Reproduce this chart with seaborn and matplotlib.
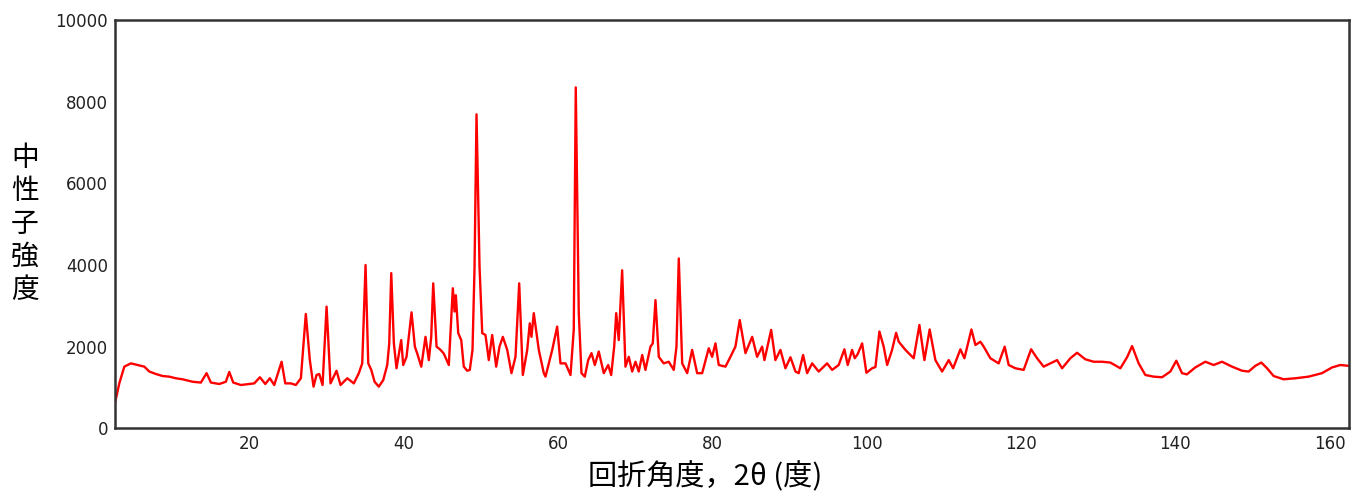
import matplotlib
matplotlib.use("Agg")
import matplotlib.pyplot as plt
import seaborn as sns
import pandas as pd

# neutron diffraction pattern
two_theta = [
    2.64, 3.16, 3.81, 4.66, 5.53, 6.40, 7.05, 7.90, 8.77, 9.64,
    10.49, 11.36, 12.66, 13.73, 14.47, 15.03, 16.12, 16.97, 17.41, 17.93,
    18.91, 20.00, 20.65, 21.38, 22.08, 22.67, 23.24, 24.19, 24.67, 25.39,
    26.04, 26.69, 27.33, 27.85, 28.33, 28.72, 29.07, 29.50, 30.02, 30.53,
    31.31, 31.83, 32.70, 33.55, 34.20, 34.64, 35.07, 35.42, 35.81, 36.24,
    36.79, 37.36, 37.88, 38.14, 38.40, 38.74, 39.08, 39.69, 39.95, 40.38,
    41.03, 41.46, 41.77, 42.29, 42.84, 43.27, 43.58, 43.84, 44.27, 44.79,
    45.21, 45.86, 46.17, 46.38, 46.60, 46.77, 47.08, 47.47, 47.80, 48.24,
    48.58, 48.93, 49.19, 49.45, 49.84, 50.19, 50.61, 51.04, 51.48, 52.00,
    52.43, 52.86, 53.43, 53.98, 54.50, 54.98, 55.45, 56.02, 56.35, 56.57,
    56.87, 57.52, 58.17, 58.39, 59.26, 59.90, 60.33, 60.98, 61.63, 62.05,
    62.31, 62.70, 63.05, 63.48, 63.92, 64.35, 64.78, 65.29, 65.94, 66.51,
    66.90, 67.29, 67.55, 67.88, 68.32, 68.75, 69.18, 69.62, 70.05, 70.47,
    70.92, 71.34, 71.99, 72.29, 72.64, 73.07, 73.71, 74.36, 75.01, 75.36,
    75.66, 76.10, 76.75, 77.39, 78.04, 78.69, 79.54, 79.98, 80.41, 80.84,
    81.71, 82.35, 83.00, 83.56, 84.30, 85.17, 85.81, 86.46, 86.76, 87.63,
    88.18, 88.83, 89.48, 90.13, 90.78, 91.20, 91.77, 92.29, 92.94, 93.79,
    94.88, 95.53, 96.38, 97.12, 97.55, 98.12, 98.46, 98.85, 99.42, 99.97,
    100.71, 101.14, 101.66, 102.21, 102.66, 103.30, 103.82, 104.16, 105.03, 106.10,
    106.84, 107.49, 108.17, 108.91, 109.78, 110.64, 111.21, 112.15, 112.67, 113.58,
    114.10, 114.74, 115.17, 116.04, 117.11, 117.89, 118.41, 119.28, 120.35, 121.31,
    122.09, 122.94, 123.81, 124.68, 125.33, 126.40, 127.27, 128.34, 129.42, 130.51,
    131.58, 132.88, 133.75, 134.40, 135.25, 136.12, 137.19, 138.28, 139.36, 140.13,
    140.87, 141.50, 142.59, 143.89, 144.97, 146.05, 147.35, 148.65, 149.50, 150.37,
    151.15, 151.89, 152.74, 154.04, 155.55, 157.27, 159.01, 160.31, 161.38, 162.45,
]
intensity = [
    650, 1100, 1510, 1590, 1550, 1510, 1390, 1330, 1280, 1265,
    1225, 1200, 1140, 1120, 1350, 1120, 1085, 1140, 1380, 1120,
    1060, 1085, 1100, 1250, 1085, 1225, 1060, 1630, 1100, 1100,
    1060, 1225, 2800, 1670, 1020, 1305, 1330, 1060, 2980, 1100,
    1410, 1060, 1225, 1100, 1350, 1590, 4000, 1590, 1430, 1140,
    1020, 1180, 1550, 2080, 3800, 2080, 1470, 2160, 1550, 1750,
    2840, 2000, 1830, 1510, 2240, 1670, 2240, 3550, 2000, 1920,
    1830, 1550, 2650, 3430, 2860, 3260, 2330, 2160, 1510, 1410,
    1430, 1920, 3920, 7690, 3960, 2330, 2285, 1670, 2285, 1510,
    2000, 2240, 1920, 1350, 1750, 3550, 1305, 1920, 2570, 2240,
    2820, 1920, 1350, 1265, 1920, 2490, 1590, 1590, 1305, 2410,
    8350, 2820, 1350, 1265, 1670, 1840, 1550, 1880, 1350, 1550,
    1305, 2000, 2820, 2160, 3870, 1510, 1750, 1390, 1630, 1390,
    1795, 1430, 2000, 2080, 3140, 1750, 1590, 1630, 1430, 2000,
    4160, 1590, 1350, 1920, 1350, 1350, 1960, 1750, 2080, 1550,
    1510, 1750, 2000, 2650, 1840, 2240, 1750, 2000, 1670, 2410,
    1670, 1920, 1470, 1740, 1390, 1350, 1795, 1350, 1590, 1390,
    1590, 1430, 1550, 1935, 1550, 1920, 1715, 1820, 2080, 1360,
    1470, 1500, 2370, 2000, 1550, 1920, 2340, 2120, 1920, 1715,
    2530, 1670, 2420, 1670, 1390, 1670, 1470, 1935, 1715, 2420,
    2040, 2120, 2000, 1715, 1590, 2000, 1550, 1470, 1430, 1935,
    1715, 1510, 1590, 1670, 1470, 1715, 1850, 1690, 1630, 1630,
    1610, 1470, 1740, 2015, 1590, 1305, 1265, 1250, 1390, 1655,
    1350, 1320, 1490, 1630, 1550, 1630, 1510, 1410, 1390, 1530,
    1610, 1470, 1280, 1200, 1225, 1265, 1350, 1490, 1550, 1530,
]
x_ticks = [20, 40, 60, 80, 100, 120, 140, 160]
y_ticks = [0, 2000, 4000, 6000, 8000, 10000]
x_label = "回折角度，2θ (度)"
y_label = "中性子強度"

sns.set_style("white")
plt.rcParams['font.family'] = ['Noto Sans CJK JP', 'DejaVu Sans']

df = pd.DataFrame({'two_theta': two_theta, 'intensity': intensity})

fig = plt.figure(figsize=(13.59, 4.92), dpi=100)
ax = fig.add_axes([0.0846, 0.1295, 0.908, 0.8298])
sns.lineplot(data=df, x='two_theta', y='intensity', estimator=None, sort=False,
             color='#ff0000', linewidth=1.7, ax=ax)

ax.set_xlim(2.6, 162.5)
ax.set_ylim(0, 10000)
ax.set_xticks(x_ticks)
ax.set_yticks(y_ticks)
ax.set_xlabel('')
ax.set_ylabel('')
for s in ax.spines.values():
    s.set_color('#333333')
    s.set_linewidth(1.8)
ax.tick_params(axis='x', direction='in', length=9, width=1.5, color='#333333',
               labelsize=12, labelcolor='#222222', pad=5, labelfontfamily='DejaVu Sans')
ax.tick_params(axis='y', direction='in', length=12, width=1.5, color='#333333',
               labelsize=12, labelcolor='#222222', pad=5, labelfontfamily='DejaVu Sans')

fig.text(0.5188, 0.030, x_label, ha='center', va='center', fontsize=21, color='black')
fig.text(0.0184, 0.5447, "\n".join(y_label), ha='center', va='center', fontsize=20,
         linespacing=1.12, color='black')

fig.savefig('out.png', dpi=100)
